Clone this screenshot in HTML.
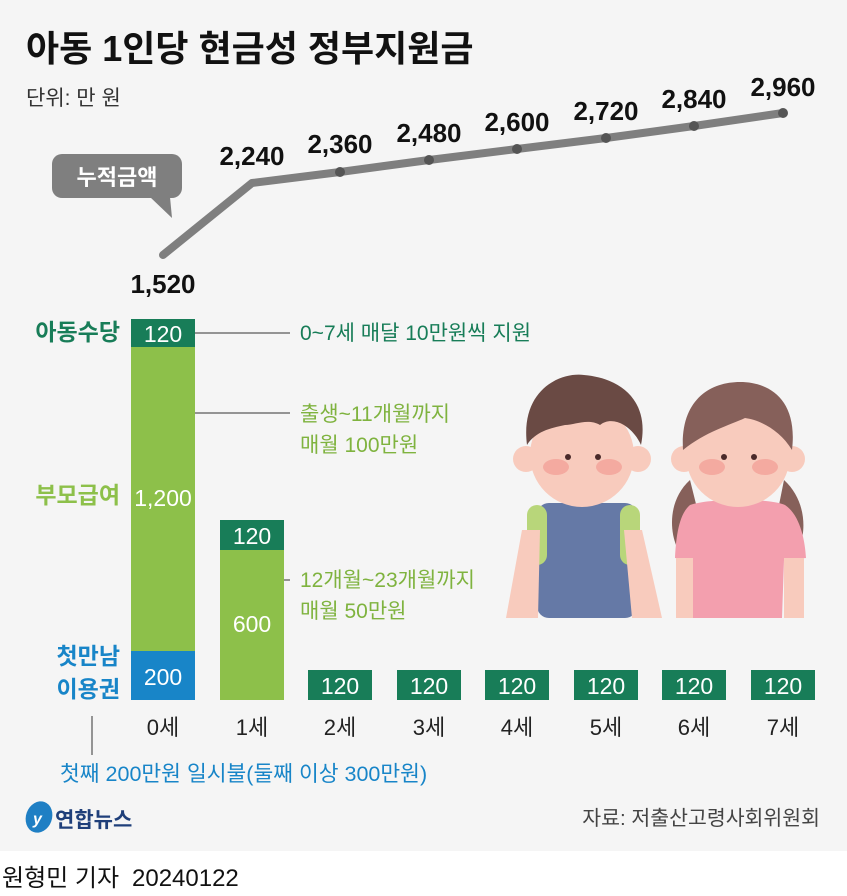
<!DOCTYPE html>
<html><head><meta charset="utf-8"><style>
body{margin:0;width:847px;height:896px;background:#fff;overflow:hidden}
svg{display:block}
text{font-family:"Liberation Sans","Noto Sans CJK KR",sans-serif}
</style></head><body>
<svg width="847" height="896" viewBox="0 0 847 896">
<rect x="0" y="0" width="847" height="851" fill="#f5f5f5"/>
<text x="26" y="61" font-size="36" font-weight="bold" fill="#111">아동 1인당 현금성 정부지원금</text>
<text x="26" y="105" font-size="21" fill="#333">단위: 만 원</text>
<polyline points="163,255 252,183 340,172 429,160 517,149 606,138 694,126 783,113" fill="none" stroke="#7f7f7f" stroke-width="8" stroke-linejoin="round" stroke-linecap="round"/>
<g fill="#555"><circle cx="340" cy="172" r="5"/><circle cx="429" cy="160" r="5"/><circle cx="517" cy="149" r="5"/><circle cx="606" cy="138" r="5"/><circle cx="694" cy="126" r="5"/><circle cx="783" cy="113" r="5"/></g>
<g font-size="26" font-weight="bold" fill="#111" text-anchor="middle">
<text x="163" y="293">1,520</text><text x="252" y="165">2,240</text><text x="340" y="153">2,360</text><text x="429" y="142">2,480</text><text x="517" y="131">2,600</text><text x="606" y="120">2,720</text><text x="694" y="108">2,840</text><text x="783" y="96">2,960</text>
</g>
<rect x="52" y="154" width="130" height="44" rx="10" fill="#7f7f7f"/>
<polygon points="150,197 170,197 172,218" fill="#7f7f7f"/>
<text x="117" y="185" font-size="22" font-weight="bold" fill="#fff" text-anchor="middle">누적금액</text>
<rect x="131" y="319" width="64" height="28" fill="#187d58"/>
<rect x="131" y="347" width="64" height="304" fill="#8dc04a"/>
<rect x="131" y="651" width="64" height="49" fill="#1885c8"/>
<rect x="220" y="520" width="64" height="30" fill="#187d58"/>
<rect x="220" y="550" width="64" height="150" fill="#8dc04a"/>
<g fill="#187d58">
<rect x="308" y="670" width="64" height="30"/><rect x="397" y="670" width="64" height="30"/><rect x="485" y="670" width="64" height="30"/><rect x="574" y="670" width="64" height="30"/><rect x="662" y="670" width="64" height="30"/><rect x="751" y="670" width="64" height="30"/>
</g>
<g font-size="23" fill="#fff" text-anchor="middle">
<text x="163" y="342">120</text><text x="163" y="506">1,200</text><text x="163" y="685">200</text>
<text x="252" y="544">120</text><text x="252" y="632">600</text>
<text x="340" y="694">120</text><text x="429" y="694">120</text><text x="517" y="694">120</text><text x="606" y="694">120</text><text x="694" y="694">120</text><text x="783" y="694">120</text>
</g>
<g font-size="22" fill="#222" text-anchor="middle">
<text x="163" y="735">0세</text><text x="252" y="735">1세</text><text x="340" y="735">2세</text><text x="429" y="735">3세</text><text x="517" y="735">4세</text><text x="606" y="735">5세</text><text x="694" y="735">6세</text><text x="783" y="735">7세</text>
</g>
<text x="120" y="340" font-size="23" font-weight="bold" fill="#187d58" text-anchor="end">아동수당</text>
<text x="120" y="503" font-size="23" font-weight="bold" fill="#8dc04a" text-anchor="end">부모급여</text>
<text x="120" y="664" font-size="23" font-weight="bold" fill="#1885c8" text-anchor="end">첫만남</text>
<text x="120" y="697" font-size="23" font-weight="bold" fill="#1885c8" text-anchor="end">이용권</text>
<line x1="195" y1="333" x2="290" y2="333" stroke="#333" stroke-width="1"/>
<text x="300" y="340" font-size="21" fill="#187d58">0~7세 매달 10만원씩 지원</text>
<line x1="195" y1="413" x2="290" y2="413" stroke="#333" stroke-width="1"/>
<text x="300" y="421" font-size="21" fill="#7fb33f">출생~11개월까지</text>
<text x="300" y="452" font-size="21" fill="#7fb33f">매월 100만원</text>
<line x1="284" y1="580" x2="290" y2="580" stroke="#333" stroke-width="1"/>
<text x="300" y="587" font-size="21" fill="#7fb33f">12개월~23개월까지</text>
<text x="300" y="618" font-size="21" fill="#7fb33f">매월 50만원</text>
<line x1="92" y1="716" x2="92" y2="755" stroke="#333" stroke-width="1"/>
<text x="60" y="781" font-size="21.5" fill="#1885c8">첫째 200만원 일시불(둘째 이상 300만원)</text>
<g>
<rect x="537" y="503" width="100" height="115" rx="12" fill="#6579a6"/>
<rect x="527" y="505" width="20" height="60" rx="10" fill="#b8d67a"/>
<rect x="620" y="505" width="20" height="60" rx="10" fill="#b8d67a"/>
<path d="M522,530 L540,530 L538,618 L506,618 Z" fill="#f8cbbd"/>
<path d="M624,530 L642,530 L662,618 L632,618 Z" fill="#f8cbbd"/>
<circle cx="526" cy="459" r="13" fill="#f8cbbd"/>
<circle cx="638" cy="459" r="13" fill="#f8cbbd"/>
<ellipse cx="582" cy="455" rx="52" ry="52" fill="#f8cbbd"/>
<path d="M527,445 C520,390 560,372 584,375 C620,378 650,400 641,445 C632,425 612,415 600,425 C588,418 575,425 565,425 C550,428 535,432 527,445 Z" fill="#6a4a44"/>
<ellipse cx="556" cy="467" rx="13" ry="8" fill="#f4aaa0"/>
<ellipse cx="609" cy="467" rx="13" ry="8" fill="#f4aaa0"/>
<circle cx="568" cy="457" r="3" fill="#4a2a2a"/><circle cx="598" cy="457" r="3" fill="#4a2a2a"/>
<path d="M690,480 C668,500 670,530 676,545 L700,520 Z" fill="#86605a"/>
<path d="M784,480 C806,500 806,530 800,545 L776,520 Z" fill="#86605a"/>
<path d="M690,505 C710,498 770,498 785,505 C800,515 805,540 806,558 L784,560 L782,618 L693,618 L692,560 L675,558 C676,540 678,515 690,505 Z" fill="#f39fae"/>
<rect x="676" y="558" width="17" height="60" fill="#f8cbbd"/>
<rect x="784" y="558" width="20" height="60" fill="#f8cbbd"/>
<circle cx="684" cy="459" r="13" fill="#f8cbbd"/>
<circle cx="792" cy="459" r="13" fill="#f8cbbd"/>
<ellipse cx="738" cy="455" rx="52" ry="52" fill="#f8cbbd"/>
<path d="M683,450 C680,400 710,382 740,382 C770,382 798,400 792,450 C780,430 760,420 745,418 C730,425 705,432 683,450 Z" fill="#86605a"/>
<ellipse cx="712" cy="467" rx="13" ry="8" fill="#f4aaa0"/>
<ellipse cx="765" cy="467" rx="13" ry="8" fill="#f4aaa0"/>
<circle cx="724" cy="457" r="3" fill="#4a2a2a"/><circle cx="754" cy="457" r="3" fill="#4a2a2a"/>
</g>
<ellipse cx="39" cy="817" rx="13" ry="16" fill="#1f7fc4" transform="rotate(20 39 817)"/>
<text x="33" y="824" font-size="16" font-weight="bold" fill="#fff" font-style="italic">y</text>
<text x="55" y="827" font-size="21" font-weight="bold" fill="#1f3f7a">연합뉴스</text>
<text x="820" y="825" font-size="20.5" fill="#444" text-anchor="end">자료: 저출산고령사회위원회</text>
<text x="2" y="886" font-size="24" fill="#111">원형민 기자</text>
<text x="132" y="886" font-size="24" fill="#111">20240122</text>
</svg>
</body></html>
